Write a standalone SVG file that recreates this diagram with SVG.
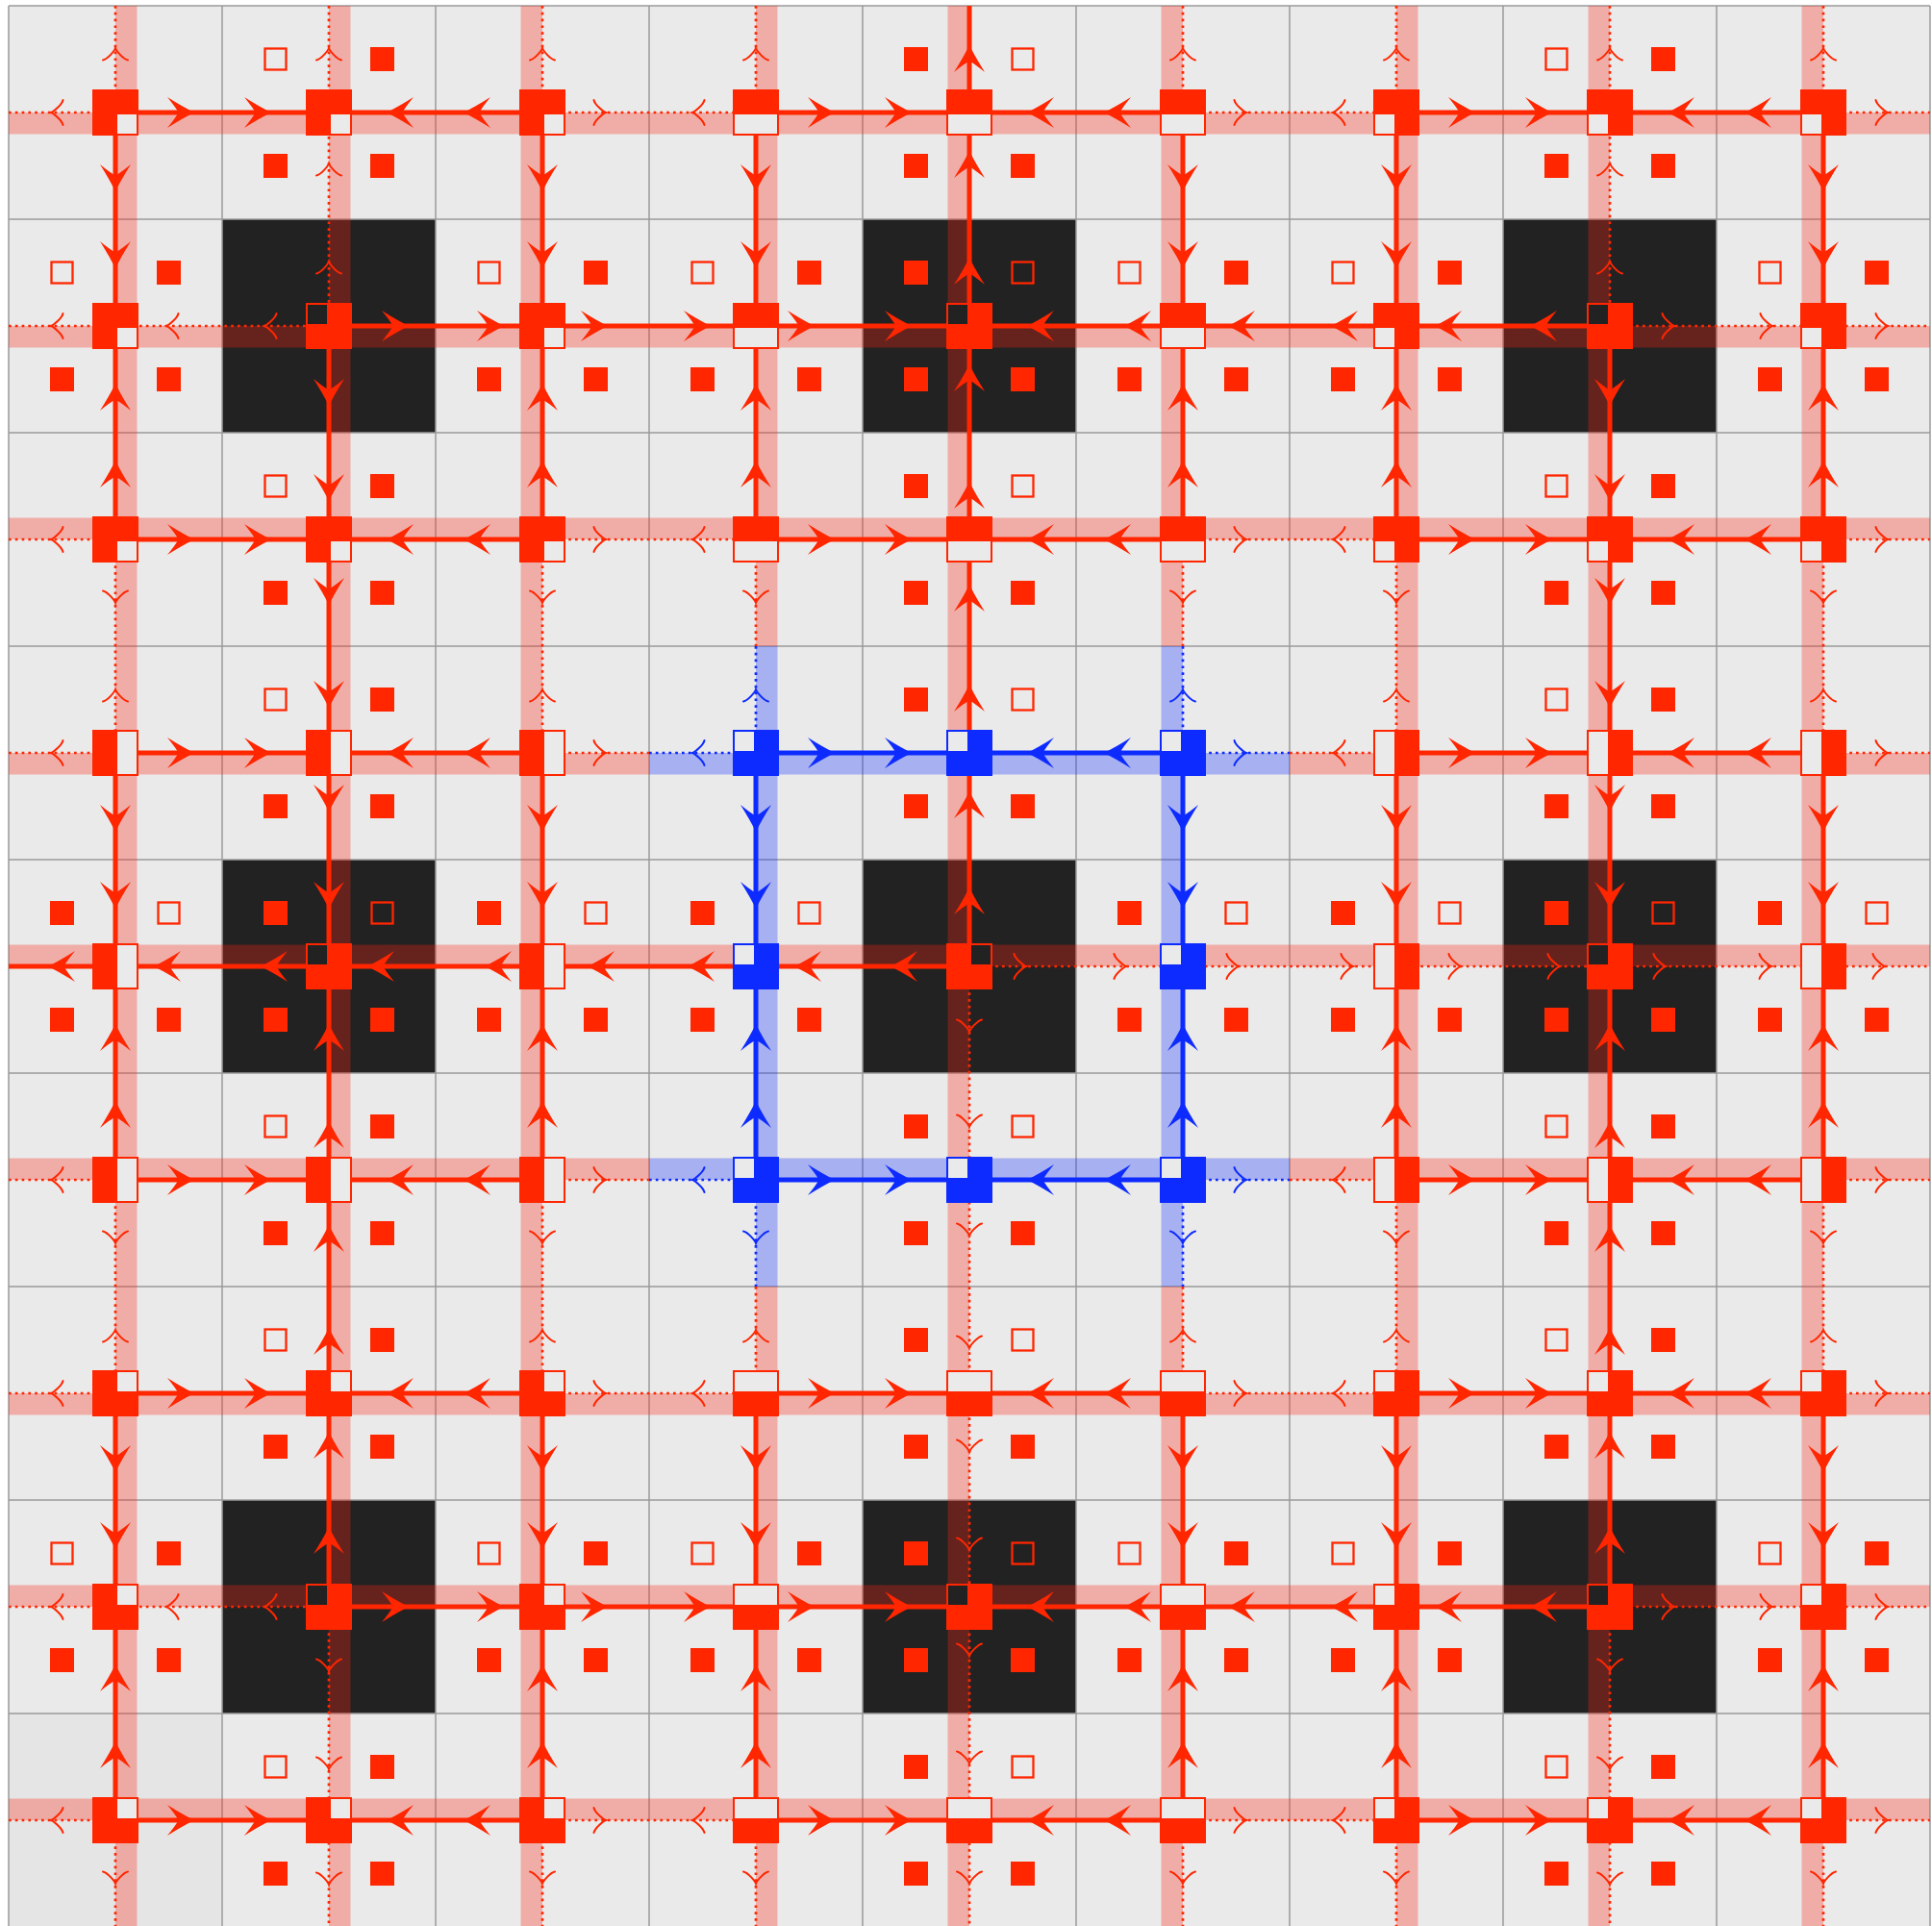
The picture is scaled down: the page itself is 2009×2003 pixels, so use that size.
<svg xmlns="http://www.w3.org/2000/svg" width="2009" height="2003" viewBox="0 0 2009 2003">
<style>
.sr{stroke:#ff2600;stroke-width:5;fill:none}
.sb{stroke:#0d2bff;stroke-width:5;fill:none}
.dr{stroke:#ff2600;stroke-width:2.7;stroke-dasharray:2.7 4.1;fill:none}
.db{stroke:#0d2bff;stroke-width:2.7;stroke-dasharray:2.7 4.1;fill:none}
.ar{fill:#ff2600}
.ab{fill:#0d2bff}
.cr{fill:none;stroke:#ff2600;stroke-width:2;stroke-linecap:round}
.cb{fill:none;stroke:#0d2bff;stroke-width:2;stroke-linecap:round}
.bandr{fill:#ff2814;fill-opacity:0.31}
.bandb{fill:#0d2bff;fill-opacity:0.3}
.grid{stroke:#9a9a9a;stroke-width:1.5;fill:none}
</style>
<defs>
<path id="aR" d="M0,0 Q-13,-6.5 -28,-16 Q-19,-5 -16.5,0 Q-19,5 -28,16 Q-13,6.5 0,0Z"/>
<path id="aL" d="M0,0 Q13,-6.5 28,-16 Q19,-5 16.5,0 Q19,5 28,16 Q13,6.5 0,0Z"/>
<path id="aD" d="M0,0 Q-6.5,-13 -16,-28 Q-5,-19 0,-16.5 Q5,-19 16,-28 Q6.5,-13 0,0Z"/>
<path id="aU" d="M0,0 Q-6.5,13 -16,28 Q-5,19 0,16.5 Q5,19 16,28 Q6.5,13 0,0Z"/>
<path id="cR" d="M-12.5,-13C-11.5,-8 -2.5,-0.8 0,0C-2.5,0.8 -11.5,8 -12.5,13"/>
<path id="cL" d="M12.5,-13C11.5,-8 2.5,-0.8 0,0C2.5,0.8 11.5,8 12.5,13"/>
<path id="cD" d="M-13,-12.5C-8,-11.5 -0.8,-2.5 0,0C0.8,-2.5 8,-11.5 13,-12.5"/>
<path id="cU" d="M-13,12.5C-8,11.5 -0.8,2.5 0,0C0.8,2.5 8,11.5 13,12.5"/>
<g id="nBR"><rect x="-24" y="-24" width="48" height="48" fill="#ff2600"/><rect x="1" y="1" width="22" height="22" fill="#eaeaea" stroke="#ff2600" stroke-width="2"/></g>
<g id="nBL"><rect x="-24" y="-24" width="48" height="48" fill="#ff2600"/><rect x="-23" y="1" width="22" height="22" fill="#eaeaea" stroke="#ff2600" stroke-width="2"/></g>
<g id="nTR"><rect x="-24" y="-24" width="48" height="48" fill="#ff2600"/><rect x="1" y="-23" width="22" height="22" fill="#eaeaea" stroke="#ff2600" stroke-width="2"/></g>
<g id="nTL"><rect x="-24" y="-24" width="48" height="48" fill="#ff2600"/><rect x="-23" y="-23" width="22" height="22" fill="#eaeaea" stroke="#ff2600" stroke-width="2"/></g>
<g id="nB"><rect x="-24" y="-24" width="48" height="48" fill="#ff2600"/><rect x="-23" y="1" width="46" height="22" fill="#eaeaea" stroke="#ff2600" stroke-width="2"/></g>
<g id="nT"><rect x="-24" y="-24" width="48" height="48" fill="#ff2600"/><rect x="-23" y="-23" width="46" height="22" fill="#eaeaea" stroke="#ff2600" stroke-width="2"/></g>
<g id="nR"><rect x="-24" y="-24" width="48" height="48" fill="#ff2600"/><rect x="1" y="-23" width="22" height="46" fill="#eaeaea" stroke="#ff2600" stroke-width="2"/></g>
<g id="nL"><rect x="-24" y="-24" width="48" height="48" fill="#ff2600"/><rect x="-23" y="-23" width="22" height="46" fill="#eaeaea" stroke="#ff2600" stroke-width="2"/></g>
<g id="nDTL"><rect x="-24" y="-24" width="48" height="48" fill="#ff2600"/><rect x="-23" y="-23" width="22" height="22" fill="#222222" stroke="#ff2600" stroke-width="2"/></g>
<g id="nDTR"><rect x="-24" y="-24" width="48" height="48" fill="#ff2600"/><rect x="1" y="-23" width="22" height="22" fill="#222222" stroke="#ff2600" stroke-width="2"/></g>
<g id="bTL"><rect x="-24" y="-24" width="48" height="48" fill="#0d2bff"/><rect x="-23" y="-23" width="22" height="22" fill="#eaeaea" stroke="#0d2bff" stroke-width="2"/></g>
<g id="qTL"><rect x="-66.5" y="-66.5" width="22" height="22" fill="none" stroke="#ff2600" stroke-width="2.3"/><rect x="43" y="-68" width="25" height="25" fill="#ff2600"/><rect x="-68" y="43" width="25" height="25" fill="#ff2600"/><rect x="43" y="43" width="25" height="25" fill="#ff2600"/></g>
<g id="qTR"><rect x="-68" y="-68" width="25" height="25" fill="#ff2600"/><rect x="44.5" y="-66.5" width="22" height="22" fill="none" stroke="#ff2600" stroke-width="2.3"/><rect x="-68" y="43" width="25" height="25" fill="#ff2600"/><rect x="43" y="43" width="25" height="25" fill="#ff2600"/></g>
</defs>
<g id="background">
<rect x="0" y="0" width="2009" height="2003" fill="#ffffff"/>
<rect x="9" y="6" width="1998" height="1998" fill="#eaeaea"/>
<rect x="9" y="1782" width="222" height="222" fill="#e5e5e5"/>
<g fill="#222222">
<rect x="231" y="228" width="222" height="222"/>
<rect x="897" y="228" width="222" height="222"/>
<rect x="1563" y="228" width="222" height="222"/>
<rect x="231" y="894" width="222" height="222"/>
<rect x="897" y="894" width="222" height="222"/>
<rect x="1563" y="894" width="222" height="222"/>
<rect x="231" y="1560" width="222" height="222"/>
<rect x="897" y="1560" width="222" height="222"/>
<rect x="1563" y="1560" width="222" height="222"/>
</g>
<path class="grid" d="M9,6V2004M231,6V2004M453,6V2004M675,6V2004M897,6V2004M1119,6V2004M1341,6V2004M1563,6V2004M1785,6V2004M2007,6V2004M9,6H2007M9,228H2007M9,450H2007M9,672H2007M9,894H2007M9,1116H2007M9,1338H2007M9,1560H2007M9,1782H2007"/>
</g>
<g id="bands">
<g class="bandr">
<rect x="9" y="117" width="1998" height="22.5"/>
<rect x="9" y="339" width="1998" height="22.5"/>
<rect x="9" y="538.5" width="1998" height="22.5"/>
<rect x="9" y="783" width="666" height="22.5"/>
<rect x="1341" y="783" width="666" height="22.5"/>
<rect x="9" y="982.5" width="1998" height="22.5"/>
<rect x="9" y="1204.5" width="666" height="22.5"/>
<rect x="1341" y="1204.5" width="666" height="22.5"/>
<rect x="9" y="1449" width="1998" height="22.5"/>
<rect x="9" y="1648.5" width="1998" height="22.5"/>
<rect x="9" y="1870.5" width="1998" height="22.5"/>
<rect x="120" y="6" width="22.5" height="1998"/>
<rect x="342" y="6" width="22.5" height="1998"/>
<rect x="541.5" y="6" width="22.5" height="1998"/>
<rect x="786" y="6" width="22.5" height="666"/>
<rect x="786" y="1338" width="22.5" height="666"/>
<rect x="985.5" y="6" width="22.5" height="1998"/>
<rect x="1207.5" y="6" width="22.5" height="666"/>
<rect x="1207.5" y="1338" width="22.5" height="666"/>
<rect x="1452" y="6" width="22.5" height="1998"/>
<rect x="1651.5" y="6" width="22.5" height="1998"/>
<rect x="1873.5" y="6" width="22.5" height="1998"/>
</g>
<g class="bandb">
<rect x="675" y="783" width="666" height="22.5"/>
<rect x="675" y="1204.5" width="666" height="22.5"/>
<rect x="786" y="672" width="22.5" height="666"/>
<rect x="1207.5" y="672" width="22.5" height="666"/>
</g>
</g>
<g id="connectors">
<path class="sr" d="M120,117H564M786,117H1230M1452,117H1896M120,561H564M786,561H1230M1452,561H1896M120,1449H564M786,1449H1230M1452,1449H1896M120,1893H564M786,1893H1230M1452,1893H1896M120,783H564M1452,783H1896M120,1227H564M1452,1227H1896M342,339H1674M342,1671H1674M9,1005H1008M120,117V561M120,783V1227M120,1449V1893M564,117V561M564,783V1227M564,1449V1893M1452,117V561M1452,783V1227M1452,1449V1893M1896,117V561M1896,783V1227M1896,1449V1893M786,117V561M786,1449V1893M1230,117V561M1230,1449V1893M342,339V1671M1674,339V1671M1008,6V1005"/>
<path class="sb" d="M786,783H1230M786,1227H1230M786,783V1227M1230,783V1227"/>
<path class="dr" d="M9,117H120M564,117H786M1230,117H1452M1896,117H2007M9,561H120M564,561H786M1230,561H1452M1896,561H2007M9,1449H120M564,1449H786M1230,1449H1452M1896,1449H2007M9,1893H120M564,1893H786M1230,1893H1452M1896,1893H2007M9,783H120M564,783H675M1341,783H1452M1896,783H2007M9,1227H120M564,1227H675M1341,1227H1452M1896,1227H2007M9,339H342M1674,339H2007M9,1671H342M1674,1671H2007M1008,1005H2007M120,6V117M120,561V783M120,1227V1449M120,1893V2004M564,6V117M564,561V783M564,1227V1449M564,1893V2004M1452,6V117M1452,561V783M1452,1227V1449M1452,1893V2004M1896,6V117M1896,561V783M1896,1227V1449M1896,1893V2004M786,6V117M786,561V672M786,1338V1449M786,1893V2004M1230,6V117M1230,561V672M1230,1338V1449M1230,1893V2004M342,6V339M342,1671V2004M1674,6V339M1674,1671V2004M1008,1005V2004"/>
<path class="db" d="M675,783H786M1230,783H1341M675,1227H786M1230,1227H1341M786,672V783M786,1227V1338M1230,672V783M1230,1227V1338"/>
<g class="ar">
<use href="#aR" x="202" y="117"/><use href="#aR" x="282" y="117"/><use href="#aR" x="868" y="117"/><use href="#aR" x="948" y="117"/><use href="#aR" x="1534" y="117"/><use href="#aR" x="1614" y="117"/>
<use href="#aR" x="202" y="561"/><use href="#aR" x="282" y="561"/><use href="#aR" x="868" y="561"/><use href="#aR" x="948" y="561"/><use href="#aR" x="1534" y="561"/><use href="#aR" x="1614" y="561"/>
<use href="#aR" x="202" y="1449"/><use href="#aR" x="282" y="1449"/><use href="#aR" x="868" y="1449"/><use href="#aR" x="948" y="1449"/><use href="#aR" x="1534" y="1449"/><use href="#aR" x="1614" y="1449"/>
<use href="#aR" x="202" y="1893"/><use href="#aR" x="282" y="1893"/><use href="#aR" x="868" y="1893"/><use href="#aR" x="948" y="1893"/><use href="#aR" x="1534" y="1893"/><use href="#aR" x="1614" y="1893"/>
<use href="#aR" x="202" y="783"/><use href="#aR" x="282" y="783"/><use href="#aR" x="1534" y="783"/><use href="#aR" x="1614" y="783"/>
<use href="#aR" x="202" y="1227"/><use href="#aR" x="282" y="1227"/><use href="#aR" x="1534" y="1227"/><use href="#aR" x="1614" y="1227"/>
<use href="#aR" x="425" y="339"/><use href="#aR" x="524" y="339"/><use href="#aR" x="632" y="339"/><use href="#aR" x="739" y="339"/><use href="#aR" x="847" y="339"/><use href="#aR" x="948" y="339"/>
<use href="#aR" x="425" y="1671"/><use href="#aR" x="524" y="1671"/><use href="#aR" x="632" y="1671"/><use href="#aR" x="739" y="1671"/><use href="#aR" x="847" y="1671"/><use href="#aR" x="948" y="1671"/>
<use href="#aL" x="402" y="117"/><use href="#aL" x="482" y="117"/><use href="#aL" x="1068" y="117"/><use href="#aL" x="1148" y="117"/><use href="#aL" x="1734" y="117"/><use href="#aL" x="1814" y="117"/>
<use href="#aL" x="402" y="561"/><use href="#aL" x="482" y="561"/><use href="#aL" x="1068" y="561"/><use href="#aL" x="1148" y="561"/><use href="#aL" x="1734" y="561"/><use href="#aL" x="1814" y="561"/>
<use href="#aL" x="402" y="1449"/><use href="#aL" x="482" y="1449"/><use href="#aL" x="1068" y="1449"/><use href="#aL" x="1148" y="1449"/><use href="#aL" x="1734" y="1449"/><use href="#aL" x="1814" y="1449"/>
<use href="#aL" x="402" y="1893"/><use href="#aL" x="482" y="1893"/><use href="#aL" x="1068" y="1893"/><use href="#aL" x="1148" y="1893"/><use href="#aL" x="1734" y="1893"/><use href="#aL" x="1814" y="1893"/>
<use href="#aL" x="402" y="783"/><use href="#aL" x="482" y="783"/><use href="#aL" x="1734" y="783"/><use href="#aL" x="1814" y="783"/>
<use href="#aL" x="402" y="1227"/><use href="#aL" x="482" y="1227"/><use href="#aL" x="1734" y="1227"/><use href="#aL" x="1814" y="1227"/>
<use href="#aL" x="1068" y="339"/><use href="#aL" x="1169" y="339"/><use href="#aL" x="1277" y="339"/><use href="#aL" x="1384" y="339"/><use href="#aL" x="1492" y="339"/><use href="#aL" x="1591" y="339"/>
<use href="#aL" x="1068" y="1671"/><use href="#aL" x="1169" y="1671"/><use href="#aL" x="1277" y="1671"/><use href="#aL" x="1384" y="1671"/><use href="#aL" x="1492" y="1671"/><use href="#aL" x="1591" y="1671"/>
<use href="#aL" x="50" y="1005"/><use href="#aL" x="160" y="1005"/><use href="#aL" x="271" y="1005"/><use href="#aL" x="382" y="1005"/><use href="#aL" x="504" y="1005"/><use href="#aL" x="611" y="1005"/><use href="#aL" x="715" y="1005"/><use href="#aL" x="826" y="1005"/><use href="#aL" x="926" y="1005"/>
<use href="#aD" x="120" y="199"/><use href="#aD" x="120" y="279"/><use href="#aD" x="120" y="865"/><use href="#aD" x="120" y="945"/><use href="#aD" x="120" y="1531"/><use href="#aD" x="120" y="1611"/>
<use href="#aD" x="564" y="199"/><use href="#aD" x="564" y="279"/><use href="#aD" x="564" y="865"/><use href="#aD" x="564" y="945"/><use href="#aD" x="564" y="1531"/><use href="#aD" x="564" y="1611"/>
<use href="#aD" x="1452" y="199"/><use href="#aD" x="1452" y="279"/><use href="#aD" x="1452" y="865"/><use href="#aD" x="1452" y="945"/><use href="#aD" x="1452" y="1531"/><use href="#aD" x="1452" y="1611"/>
<use href="#aD" x="1896" y="199"/><use href="#aD" x="1896" y="279"/><use href="#aD" x="1896" y="865"/><use href="#aD" x="1896" y="945"/><use href="#aD" x="1896" y="1531"/><use href="#aD" x="1896" y="1611"/>
<use href="#aD" x="786" y="199"/><use href="#aD" x="786" y="279"/><use href="#aD" x="786" y="1531"/><use href="#aD" x="786" y="1611"/>
<use href="#aD" x="1230" y="199"/><use href="#aD" x="1230" y="279"/><use href="#aD" x="1230" y="1531"/><use href="#aD" x="1230" y="1611"/>
<use href="#aD" x="342" y="422"/><use href="#aD" x="342" y="521"/><use href="#aD" x="342" y="629"/><use href="#aD" x="342" y="736"/><use href="#aD" x="342" y="844"/><use href="#aD" x="342" y="945"/>
<use href="#aD" x="1674" y="422"/><use href="#aD" x="1674" y="521"/><use href="#aD" x="1674" y="629"/><use href="#aD" x="1674" y="736"/><use href="#aD" x="1674" y="844"/><use href="#aD" x="1674" y="945"/>
<use href="#aU" x="120" y="399"/><use href="#aU" x="120" y="479"/><use href="#aU" x="120" y="1065"/><use href="#aU" x="120" y="1145"/><use href="#aU" x="120" y="1731"/><use href="#aU" x="120" y="1811"/>
<use href="#aU" x="564" y="399"/><use href="#aU" x="564" y="479"/><use href="#aU" x="564" y="1065"/><use href="#aU" x="564" y="1145"/><use href="#aU" x="564" y="1731"/><use href="#aU" x="564" y="1811"/>
<use href="#aU" x="1452" y="399"/><use href="#aU" x="1452" y="479"/><use href="#aU" x="1452" y="1065"/><use href="#aU" x="1452" y="1145"/><use href="#aU" x="1452" y="1731"/><use href="#aU" x="1452" y="1811"/>
<use href="#aU" x="1896" y="399"/><use href="#aU" x="1896" y="479"/><use href="#aU" x="1896" y="1065"/><use href="#aU" x="1896" y="1145"/><use href="#aU" x="1896" y="1731"/><use href="#aU" x="1896" y="1811"/>
<use href="#aU" x="786" y="399"/><use href="#aU" x="786" y="479"/><use href="#aU" x="786" y="1731"/><use href="#aU" x="786" y="1811"/>
<use href="#aU" x="1230" y="399"/><use href="#aU" x="1230" y="479"/><use href="#aU" x="1230" y="1731"/><use href="#aU" x="1230" y="1811"/>
<use href="#aU" x="342" y="1065"/><use href="#aU" x="342" y="1166"/><use href="#aU" x="342" y="1274"/><use href="#aU" x="342" y="1381"/><use href="#aU" x="342" y="1489"/><use href="#aU" x="342" y="1588"/>
<use href="#aU" x="1674" y="1065"/><use href="#aU" x="1674" y="1166"/><use href="#aU" x="1674" y="1274"/><use href="#aU" x="1674" y="1381"/><use href="#aU" x="1674" y="1489"/><use href="#aU" x="1674" y="1588"/>
<use href="#aU" x="1008" y="47"/><use href="#aU" x="1008" y="157"/><use href="#aU" x="1008" y="268"/><use href="#aU" x="1008" y="379"/><use href="#aU" x="1008" y="501"/><use href="#aU" x="1008" y="608"/><use href="#aU" x="1008" y="712"/><use href="#aU" x="1008" y="823"/><use href="#aU" x="1008" y="923"/>
</g>
<g class="ab">
<use href="#aR" x="868" y="783"/><use href="#aR" x="948" y="783"/><use href="#aR" x="868" y="1227"/><use href="#aR" x="948" y="1227"/>
<use href="#aL" x="1068" y="783"/><use href="#aL" x="1148" y="783"/><use href="#aL" x="1068" y="1227"/><use href="#aL" x="1148" y="1227"/>
<use href="#aD" x="786" y="865"/><use href="#aD" x="786" y="945"/><use href="#aD" x="1230" y="865"/><use href="#aD" x="1230" y="945"/>
<use href="#aU" x="786" y="1065"/><use href="#aU" x="786" y="1145"/><use href="#aU" x="1230" y="1065"/><use href="#aU" x="1230" y="1145"/>
</g>
<g class="cr">
<use href="#cL" x="53" y="117"/><use href="#cL" x="720" y="117"/><use href="#cL" x="1386" y="117"/>
<use href="#cL" x="53" y="561"/><use href="#cL" x="720" y="561"/><use href="#cL" x="1386" y="561"/>
<use href="#cL" x="53" y="1449"/><use href="#cL" x="720" y="1449"/><use href="#cL" x="1386" y="1449"/>
<use href="#cL" x="53" y="1893"/><use href="#cL" x="720" y="1893"/><use href="#cL" x="1386" y="1893"/>
<use href="#cL" x="53" y="783"/><use href="#cL" x="1386" y="783"/><use href="#cL" x="53" y="1227"/><use href="#cL" x="1386" y="1227"/>
<use href="#cL" x="53" y="339"/><use href="#cL" x="173" y="339"/><use href="#cL" x="275" y="339"/>
<use href="#cL" x="53" y="1671"/><use href="#cL" x="173" y="1671"/><use href="#cL" x="275" y="1671"/>
<use href="#cR" x="630" y="117"/><use href="#cR" x="1296" y="117"/><use href="#cR" x="1963" y="117"/>
<use href="#cR" x="630" y="561"/><use href="#cR" x="1296" y="561"/><use href="#cR" x="1963" y="561"/>
<use href="#cR" x="630" y="1449"/><use href="#cR" x="1296" y="1449"/><use href="#cR" x="1963" y="1449"/>
<use href="#cR" x="630" y="1893"/><use href="#cR" x="1296" y="1893"/><use href="#cR" x="1963" y="1893"/>
<use href="#cR" x="630" y="783"/><use href="#cR" x="1963" y="783"/><use href="#cR" x="630" y="1227"/><use href="#cR" x="1963" y="1227"/>
<use href="#cR" x="1741" y="339"/><use href="#cR" x="1843" y="339"/><use href="#cR" x="1963" y="339"/>
<use href="#cR" x="1741" y="1671"/><use href="#cR" x="1843" y="1671"/><use href="#cR" x="1963" y="1671"/>
<use href="#cR" x="1067" y="1005"/><use href="#cR" x="1171" y="1005"/><use href="#cR" x="1288" y="1005"/><use href="#cR" x="1407" y="1005"/><use href="#cR" x="1519" y="1005"/><use href="#cR" x="1622" y="1005"/><use href="#cR" x="1732" y="1005"/><use href="#cR" x="1842" y="1005"/><use href="#cR" x="1960" y="1005"/>
<use href="#cU" x="120" y="50"/><use href="#cU" x="120" y="717"/><use href="#cU" x="120" y="1383"/>
<use href="#cU" x="564" y="50"/><use href="#cU" x="564" y="717"/><use href="#cU" x="564" y="1383"/>
<use href="#cU" x="1452" y="50"/><use href="#cU" x="1452" y="717"/><use href="#cU" x="1452" y="1383"/>
<use href="#cU" x="1896" y="50"/><use href="#cU" x="1896" y="717"/><use href="#cU" x="1896" y="1383"/>
<use href="#cU" x="786" y="50"/><use href="#cU" x="786" y="1383"/><use href="#cU" x="1230" y="50"/><use href="#cU" x="1230" y="1383"/>
<use href="#cU" x="342" y="50"/><use href="#cU" x="342" y="170"/><use href="#cU" x="342" y="272"/>
<use href="#cU" x="1674" y="50"/><use href="#cU" x="1674" y="170"/><use href="#cU" x="1674" y="272"/>
<use href="#cD" x="120" y="627"/><use href="#cD" x="120" y="1293"/><use href="#cD" x="120" y="1959"/>
<use href="#cD" x="564" y="627"/><use href="#cD" x="564" y="1293"/><use href="#cD" x="564" y="1959"/>
<use href="#cD" x="1452" y="627"/><use href="#cD" x="1452" y="1293"/><use href="#cD" x="1452" y="1959"/>
<use href="#cD" x="1896" y="627"/><use href="#cD" x="1896" y="1293"/><use href="#cD" x="1896" y="1959"/>
<use href="#cD" x="786" y="627"/><use href="#cD" x="786" y="1959"/><use href="#cD" x="1230" y="627"/><use href="#cD" x="1230" y="1959"/>
<use href="#cD" x="342" y="1738"/><use href="#cD" x="342" y="1840"/><use href="#cD" x="342" y="1960"/>
<use href="#cD" x="1674" y="1738"/><use href="#cD" x="1674" y="1840"/><use href="#cD" x="1674" y="1960"/>
<use href="#cD" x="1008" y="1073"/><use href="#cD" x="1008" y="1172"/><use href="#cD" x="1008" y="1285"/><use href="#cD" x="1008" y="1402"/><use href="#cD" x="1008" y="1510"/><use href="#cD" x="1008" y="1612"/><use href="#cD" x="1008" y="1722"/><use href="#cD" x="1008" y="1834"/><use href="#cD" x="1008" y="1959"/>
</g>
<g class="cb">
<use href="#cL" x="720" y="783"/><use href="#cL" x="720" y="1227"/>
<use href="#cR" x="1296" y="783"/><use href="#cR" x="1296" y="1227"/>
<use href="#cU" x="786" y="717"/><use href="#cU" x="1230" y="717"/>
<use href="#cD" x="786" y="1293"/><use href="#cD" x="1230" y="1293"/>
</g>
</g>
<g id="nodes">
<g id="node-0-0"><use href="#nBR" x="120" y="117"/></g>
<g id="node-1-0"><use href="#nBR" x="342" y="117"/><use href="#qTL" x="342" y="117"/></g>
<g id="node-2-0"><use href="#nBR" x="564" y="117"/></g>
<g id="node-3-0"><use href="#nB" x="786" y="117"/></g>
<g id="node-4-0"><use href="#nB" x="1008" y="117"/><use href="#qTR" x="1008" y="117"/></g>
<g id="node-5-0"><use href="#nB" x="1230" y="117"/></g>
<g id="node-6-0"><use href="#nBL" x="1452" y="117"/></g>
<g id="node-7-0"><use href="#nBL" x="1674" y="117"/><use href="#qTL" x="1674" y="117"/></g>
<g id="node-8-0"><use href="#nBL" x="1896" y="117"/></g>
<g id="node-0-1"><use href="#nBR" x="120" y="339"/><use href="#qTL" x="120" y="339"/></g>
<g id="node-1-1"><use href="#nDTL" x="342" y="339"/></g>
<g id="node-2-1"><use href="#nBR" x="564" y="339"/><use href="#qTL" x="564" y="339"/></g>
<g id="node-3-1"><use href="#nB" x="786" y="339"/><use href="#qTL" x="786" y="339"/></g>
<g id="node-4-1"><use href="#nDTL" x="1008" y="339"/><use href="#qTR" x="1008" y="339"/></g>
<g id="node-5-1"><use href="#nB" x="1230" y="339"/><use href="#qTL" x="1230" y="339"/></g>
<g id="node-6-1"><use href="#nBL" x="1452" y="339"/><use href="#qTL" x="1452" y="339"/></g>
<g id="node-7-1"><use href="#nDTL" x="1674" y="339"/></g>
<g id="node-8-1"><use href="#nBL" x="1896" y="339"/><use href="#qTL" x="1896" y="339"/></g>
<g id="node-0-2"><use href="#nBR" x="120" y="561"/></g>
<g id="node-1-2"><use href="#nBR" x="342" y="561"/><use href="#qTL" x="342" y="561"/></g>
<g id="node-2-2"><use href="#nBR" x="564" y="561"/></g>
<g id="node-3-2"><use href="#nB" x="786" y="561"/></g>
<g id="node-4-2"><use href="#nB" x="1008" y="561"/><use href="#qTR" x="1008" y="561"/></g>
<g id="node-5-2"><use href="#nB" x="1230" y="561"/></g>
<g id="node-6-2"><use href="#nBL" x="1452" y="561"/></g>
<g id="node-7-2"><use href="#nBL" x="1674" y="561"/><use href="#qTL" x="1674" y="561"/></g>
<g id="node-8-2"><use href="#nBL" x="1896" y="561"/></g>
<g id="node-0-3"><use href="#nR" x="120" y="783"/></g>
<g id="node-1-3"><use href="#nR" x="342" y="783"/><use href="#qTL" x="342" y="783"/></g>
<g id="node-2-3"><use href="#nR" x="564" y="783"/></g>
<g id="node-3-3"><use href="#bTL" x="786" y="783"/></g>
<g id="node-4-3"><use href="#bTL" x="1008" y="783"/><use href="#qTR" x="1008" y="783"/></g>
<g id="node-5-3"><use href="#bTL" x="1230" y="783"/></g>
<g id="node-6-3"><use href="#nL" x="1452" y="783"/></g>
<g id="node-7-3"><use href="#nL" x="1674" y="783"/><use href="#qTL" x="1674" y="783"/></g>
<g id="node-8-3"><use href="#nL" x="1896" y="783"/></g>
<g id="node-0-4"><use href="#nR" x="120" y="1005"/><use href="#qTR" x="120" y="1005"/></g>
<g id="node-1-4"><use href="#nDTL" x="342" y="1005"/><use href="#qTR" x="342" y="1005"/></g>
<g id="node-2-4"><use href="#nR" x="564" y="1005"/><use href="#qTR" x="564" y="1005"/></g>
<g id="node-3-4"><use href="#bTL" x="786" y="1005"/><use href="#qTR" x="786" y="1005"/></g>
<g id="node-4-4"><use href="#nDTR" x="1008" y="1005"/></g>
<g id="node-5-4"><use href="#bTL" x="1230" y="1005"/><use href="#qTR" x="1230" y="1005"/></g>
<g id="node-6-4"><use href="#nL" x="1452" y="1005"/><use href="#qTR" x="1452" y="1005"/></g>
<g id="node-7-4"><use href="#nDTL" x="1674" y="1005"/><use href="#qTR" x="1674" y="1005"/></g>
<g id="node-8-4"><use href="#nL" x="1896" y="1005"/><use href="#qTR" x="1896" y="1005"/></g>
<g id="node-0-5"><use href="#nR" x="120" y="1227"/></g>
<g id="node-1-5"><use href="#nR" x="342" y="1227"/><use href="#qTL" x="342" y="1227"/></g>
<g id="node-2-5"><use href="#nR" x="564" y="1227"/></g>
<g id="node-3-5"><use href="#bTL" x="786" y="1227"/></g>
<g id="node-4-5"><use href="#bTL" x="1008" y="1227"/><use href="#qTR" x="1008" y="1227"/></g>
<g id="node-5-5"><use href="#bTL" x="1230" y="1227"/></g>
<g id="node-6-5"><use href="#nL" x="1452" y="1227"/></g>
<g id="node-7-5"><use href="#nL" x="1674" y="1227"/><use href="#qTL" x="1674" y="1227"/></g>
<g id="node-8-5"><use href="#nL" x="1896" y="1227"/></g>
<g id="node-0-6"><use href="#nTR" x="120" y="1449"/></g>
<g id="node-1-6"><use href="#nTR" x="342" y="1449"/><use href="#qTL" x="342" y="1449"/></g>
<g id="node-2-6"><use href="#nTR" x="564" y="1449"/></g>
<g id="node-3-6"><use href="#nT" x="786" y="1449"/></g>
<g id="node-4-6"><use href="#nT" x="1008" y="1449"/><use href="#qTR" x="1008" y="1449"/></g>
<g id="node-5-6"><use href="#nT" x="1230" y="1449"/></g>
<g id="node-6-6"><use href="#nTL" x="1452" y="1449"/></g>
<g id="node-7-6"><use href="#nTL" x="1674" y="1449"/><use href="#qTL" x="1674" y="1449"/></g>
<g id="node-8-6"><use href="#nTL" x="1896" y="1449"/></g>
<g id="node-0-7"><use href="#nTR" x="120" y="1671"/><use href="#qTL" x="120" y="1671"/></g>
<g id="node-1-7"><use href="#nDTL" x="342" y="1671"/></g>
<g id="node-2-7"><use href="#nTR" x="564" y="1671"/><use href="#qTL" x="564" y="1671"/></g>
<g id="node-3-7"><use href="#nT" x="786" y="1671"/><use href="#qTL" x="786" y="1671"/></g>
<g id="node-4-7"><use href="#nDTL" x="1008" y="1671"/><use href="#qTR" x="1008" y="1671"/></g>
<g id="node-5-7"><use href="#nT" x="1230" y="1671"/><use href="#qTL" x="1230" y="1671"/></g>
<g id="node-6-7"><use href="#nTL" x="1452" y="1671"/><use href="#qTL" x="1452" y="1671"/></g>
<g id="node-7-7"><use href="#nDTL" x="1674" y="1671"/></g>
<g id="node-8-7"><use href="#nTL" x="1896" y="1671"/><use href="#qTL" x="1896" y="1671"/></g>
<g id="node-0-8"><use href="#nTR" x="120" y="1893"/></g>
<g id="node-1-8"><use href="#nTR" x="342" y="1893"/><use href="#qTL" x="342" y="1893"/></g>
<g id="node-2-8"><use href="#nTR" x="564" y="1893"/></g>
<g id="node-3-8"><use href="#nT" x="786" y="1893"/></g>
<g id="node-4-8"><use href="#nT" x="1008" y="1893"/><use href="#qTR" x="1008" y="1893"/></g>
<g id="node-5-8"><use href="#nT" x="1230" y="1893"/></g>
<g id="node-6-8"><use href="#nTL" x="1452" y="1893"/></g>
<g id="node-7-8"><use href="#nTL" x="1674" y="1893"/><use href="#qTL" x="1674" y="1893"/></g>
<g id="node-8-8"><use href="#nTL" x="1896" y="1893"/></g>
</g>
</svg>
